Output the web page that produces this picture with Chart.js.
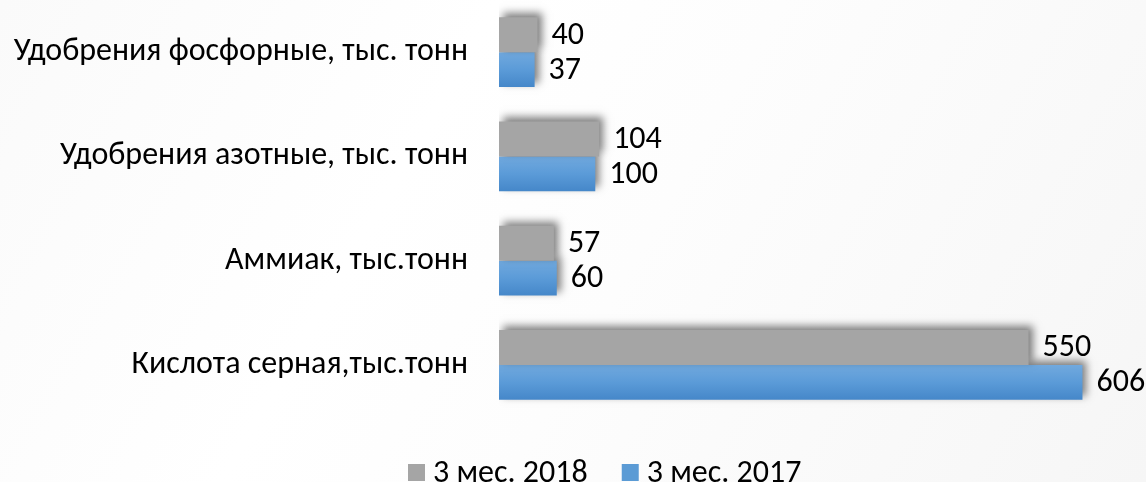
<!DOCTYPE html>
<html>
<head>
<meta charset="utf-8">
<script src="https://cdn.jsdelivr.net/npm/chart.js@4"></script>
<style>
    html, body { margin: 0; padding: 0; }
    body {
        width: 1146px; height: 482px; overflow: hidden;
        background: linear-gradient(120deg, #fafafa 0%, #ffffff 35%, #fdfdfd 55%, #f6f6f6 100%);
    }
    #wrap { position: relative; width: 1146px; height: 482px; }
</style>
</head>
<body>
<div id="wrap"><canvas id="prodChart"></canvas></div>
<script>
const categories = [
    'Удобрения фосфорные, тыс. тонн',
    'Удобрения азотные, тыс. тонн',
    'Аммиак, тыс.тонн',
    'Кислота серная,тыс.тонн'
];
const seriesNames = ['3 мес. 2018', '3 мес. 2017'];
const values2018 = [40, 104, 57, 550];
const values2017 = [37, 100, 60, 606];

const FONT = 'Carlito, Calibri, "Liberation Sans Narrow", sans-serif';
const GRAY = '#a5a5a5';
const BLUE = '#5b9bd5';

// blue bars: light on top, darker below
const blueFill = (ctx) => {
    const chart = ctx.chart;
    const y = chart.scales && chart.scales.y;
    if (!y || ctx.type !== 'data') return BLUE;
    const top = y.getPixelForValue(ctx.dataIndex);
    const band = (y.bottom - y.top) / chart.data.labels.length;
    const bottom = top + band * 0.67 / 2;
    if (!Number.isFinite(top) || !Number.isFinite(bottom)) return BLUE;
    const g = chart.ctx.createLinearGradient(0, top, 0, bottom);
    g.addColorStop(0, '#71a9de');
    g.addColorStop(0.5, '#5b9bd8');
    g.addColorStop(1, '#4587c9');
    return g;
};

const shadowPlugin = {
    id: 'barShadow',
    beforeDatasetDraw(chart) {
        const c = chart.ctx;
        c.save();
        c.shadowColor = 'rgba(0,0,0,0.5)';
        c.shadowBlur = 8;
        c.shadowOffsetX = 4;
        c.shadowOffsetY = -4;
    },
    afterDatasetDraw(chart) {
        chart.ctx.restore();
    }
};

const valueLabels = {
    id: 'valueLabels',
    afterDatasetsDraw(chart) {
        const c = chart.ctx;
        c.save();
        c.font = '32px ' + FONT;
        c.fillStyle = '#000';
        c.textAlign = 'left';
        c.textBaseline = 'middle';
        chart.data.datasets.forEach((ds, i) => {
            chart.getDatasetMeta(i).data.forEach((bar, j) => {
                c.fillText(ds.data[j], bar.x + 14, bar.y + 1);
            });
        });
        c.restore();
    }
};

// legend at the bottom, sitting on the lower edge like the original
const bottomLegend = {
    id: 'bottomLegend',
    afterDraw(chart) {
        const c = chart.ctx;
        const colors = [GRAY, BLUE];
        c.save();
        c.font = '32px ' + FONT;
        c.textBaseline = 'alphabetic';
        c.textAlign = 'left';
        let x = 408;
        chart.data.datasets.forEach((ds, i) => {
            c.fillStyle = colors[i];
            c.fillRect(x, 464, 17, 17);
            x += 17 + 8;
            c.fillStyle = '#000';
            c.fillText(ds.label, x, 482);
            x += c.measureText(ds.label).width + 34;
        });
        c.restore();
    }
};

new Chart(document.getElementById('prodChart').getContext('2d'), {
    type: 'bar',
    data: {
        labels: categories,
        datasets: [{
            label: seriesNames[0],
            data: values2018,
            backgroundColor: GRAY,
            borderWidth: 0,
            categoryPercentage: 0.67,
            barPercentage: 1.0
        }, {
            label: seriesNames[1],
            data: values2017,
            backgroundColor: blueFill,
            borderWidth: 0,
            categoryPercentage: 0.67,
            barPercentage: 1.0
        }]
    },
    options: {
        indexAxis: 'y',
        responsive: true,
        maintainAspectRatio: false,
        animation: false,
        layout: { padding: 0 },
        scales: {
            x: {
                min: 0,
                max: 672,
                ticks: { display: false },
                grid: { display: false },
                border: { display: false },
                afterFit: (scale) => { scale.height = 65; }
            },
            y: {
                ticks: {
                    color: '#000',
                    padding: 31,
                    font: { family: FONT, size: 32 }
                },
                grid: { display: false, drawTicks: false },
                border: { display: false },
                afterFit: (scale) => {
                    scale.width = 499;
                    scale.paddingTop = 0;
                    scale.paddingBottom = 0;
                }
            }
        },
        plugins: {
            legend: { display: false },
            tooltip: { enabled: false }
        }
    },
    plugins: [shadowPlugin, valueLabels, bottomLegend]
});
</script>
</body>
</html>
